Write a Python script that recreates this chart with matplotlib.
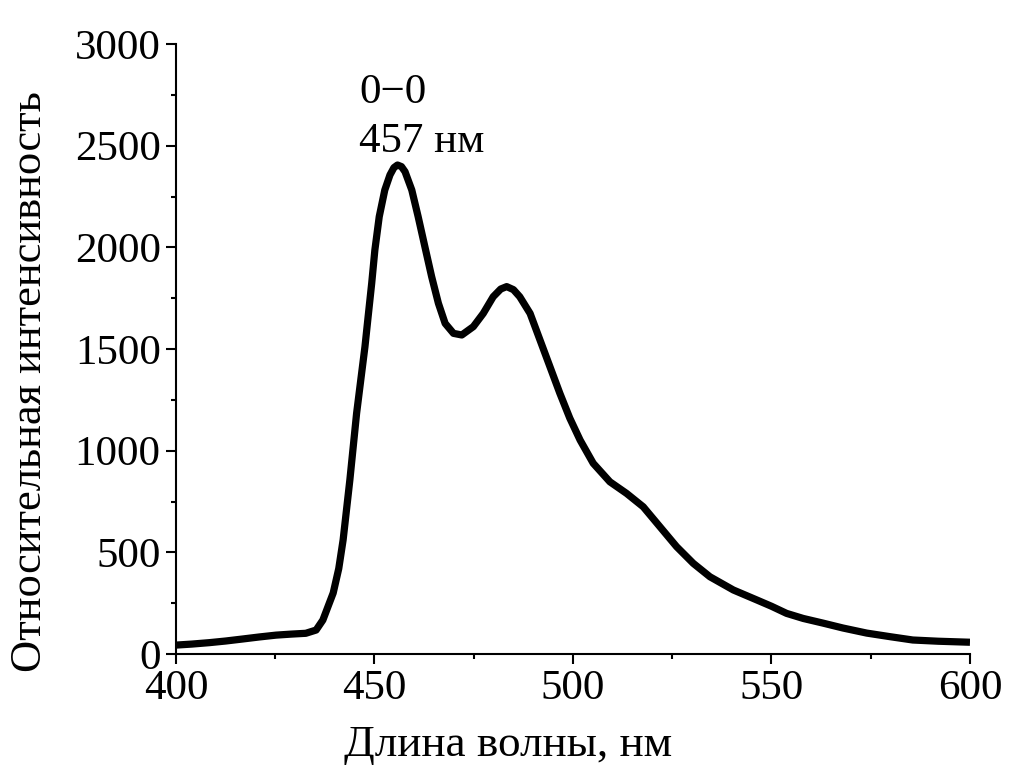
import matplotlib
matplotlib.use("Agg")
import matplotlib.pyplot as plt
from matplotlib.ticker import MultipleLocator

wavelength = [400, 404, 408.4, 412.5, 416.8, 421, 425.2, 429, 432.7, 435.3, 437.0, 438.6,
              439.6, 441, 442.1, 443.8, 445.5, 446.5, 447.6, 448.4, 449.3, 450.1, 451.2,
              452.6, 453.9, 454.9, 455.8, 456.8, 457.7, 459.4, 461.0, 462.7, 464.4, 466.1, 467.8,
              469.9, 472.0, 474.9, 477.4, 479.9, 481.8, 483.3, 485.0, 486.6, 489.2,
              491.7, 494.2, 496.7, 499.2, 501.8, 505.1, 509.3, 513.5, 517.7, 521.9,
              526.1, 530.3, 534.5, 540.4, 546.3, 550, 553.8, 558, 563.0, 568, 574.0,
              580, 585.6, 592, 600]
intensity = [44, 49, 56, 64, 74, 84, 93, 98, 102, 118, 167, 249,
             300, 420, 561, 856, 1184, 1340, 1511, 1659, 1823, 1987, 2151,
             2282, 2356, 2392, 2405, 2397, 2372, 2282, 2151, 2003, 1856, 1725, 1626,
             1577, 1569, 1610, 1675, 1757, 1795, 1807, 1792, 1757, 1675,
             1544, 1413, 1282, 1160, 1052, 938, 847, 790, 724, 626,
             528, 446, 380, 315, 266, 235, 200, 175, 152, 128, 103,
             85, 69, 63, 58]

plt.rcParams['font.family'] = ['Liberation Serif', 'DejaVu Serif']

fig = plt.figure(figsize=(10.16, 7.72), dpi=100)
ax = fig.add_axes([0.1732, 0.1528, 0.7815, 0.7902])

ax.plot(wavelength, intensity, color='black', lw=5.2, solid_joinstyle='round', solid_capstyle='butt')

ax.set_xlim(400, 600)
ax.set_ylim(0, 3000)
ax.xaxis.set_major_locator(MultipleLocator(50))
ax.xaxis.set_minor_locator(MultipleLocator(25))
ax.yaxis.set_major_locator(MultipleLocator(500))
ax.yaxis.set_minor_locator(MultipleLocator(250))

for s in ['top', 'right']:
    ax.spines[s].set_visible(False)
for s in ['left', 'bottom']:
    ax.spines[s].set_linewidth(1.5)

ax.tick_params(which='major', direction='out', length=7, width=1.5, labelsize=31, pad=4)
ax.tick_params(which='minor', direction='out', length=3.6, width=1.5)

ax.set_xlabel('Длина волны, нм', fontsize=32.5, va='center')
ax.set_ylabel('Относительная интенсивность', fontsize=32, va='center')
ax.xaxis.set_label_coords(0.418, -0.149)
ax.yaxis.set_label_coords(-0.184, 0.446)

ax.text(446.1, 2710, '0\u22120', fontsize=31, ha='left', va='baseline')
ax.text(446.1, 2469, '457 нм', fontsize=31, ha='left', va='baseline')

fig.savefig('out.png', dpi=100)
